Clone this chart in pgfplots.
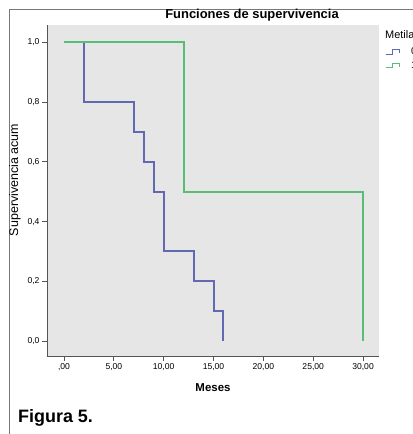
\documentclass[border=0pt]{standalone}
\usepackage{fontspec}
\setmainfont{Liberation Sans}
\usepackage{pgfplots}
\pgfplotsset{compat=1.18}

\definecolor{kmblue}{RGB}{98,104,178}
\definecolor{kmgreen}{RGB}{88,190,118}
\definecolor{panel}{RGB}{230,230,230}
\definecolor{axisgray}{RGB}{85,85,85}

\begin{document}
\begin{tikzpicture}
\useasboundingbox (0,0) rectangle (413bp,434bp);
\fill[white] (0,0) rectangle (413bp,434bp);
% outer figure frame (cut at right and bottom)
\draw[axisgray!80, line width=1bp] (9bp,0) -- (9bp,424bp) -- (413bp,424bp);

\begin{axis}[
    at={(47bp,78bp)}, anchor=south west,
    scale only axis,
    width=332bp, height=331bp,
    xmin=-1.706, xmax=31.6,
    ymin=-0.050, ymax=1.0586,
    axis background/.style={fill=panel},
    axis line style={axisgray, line width=0.9bp},
    axis x line*=bottom, axis y line*=left,
    tick align=outside,
    major tick length=5bp,
    tick style={axisgray, line width=0.9bp},
    xtick={0,5,10,15,20,25,30},
    xticklabels={{,00},{5,00},{10,00},{15,00},{20,00},{25,00},{30,00}},
    ytick={0,0.2,0.4,0.6,0.8,1},
    yticklabels={{0,0},{0,2},{0,4},{0,6},{0,8},{1,0}},
    ticklabel style={font=\fontsize{8.6}{9}\selectfont},
    xticklabel style={yshift=1bp},
    yticklabel style={xshift=1bp},
    legend style={at={(1.018,0.937)}, anchor=north west, draw=none, fill=none,
        font=\fontsize{10}{10}\selectfont, inner sep=0pt, row sep=1bp,
        legend cell align=left},
    legend image code/.code={\draw[#1, line width=1bp] (0bp,-2bp) -- (7bp,-2bp) -- (7bp,2.5bp) -- (14bp,2.5bp) -- (14bp,-1bp);},
]
% Kaplan-Meier steps, corners listed explicitly
\addplot[draw=kmblue, line width=2bp, sharp plot, line join=miter] coordinates {
    (0,1) (2,1) (2,0.8) (7,0.8) (7,0.7) (8,0.7) (8,0.6) (9,0.6) (9,0.5)
    (10,0.5) (10,0.3) (13,0.3) (13,0.2) (15,0.2) (15,0.1) (16,0.1) (16,0)
};
\addlegendentry{\hspace{9bp}0}
\addplot[draw=kmgreen, line width=2bp, sharp plot, line join=miter] coordinates {
    (0,1) (12,1) (12,0.5) (30,0.5) (30,0)
};
\addlegendentry{\hspace{9bp}1}
\end{axis}

\node[font=\bfseries\fontsize{13}{13}\selectfont, anchor=base] at (252bp,415bp) {Funciones de supervivencia};
\node[font=\fontsize{11}{11}\selectfont, anchor=base west, inner sep=0pt] at (385bp,395bp) {Metilación};
\node[font=\bfseries\fontsize{11.5}{12}\selectfont] at (213bp,46bp) {Meses};
\node[font=\fontsize{12.5}{13}\selectfont, rotate=90] at (15bp,254bp) {Supervivencia acum};
\node[font=\bfseries\fontsize{18}{18}\selectfont, anchor=base west, inner sep=0pt] at (18bp,12bp) {Figura 5.};
\end{tikzpicture}
\end{document}
